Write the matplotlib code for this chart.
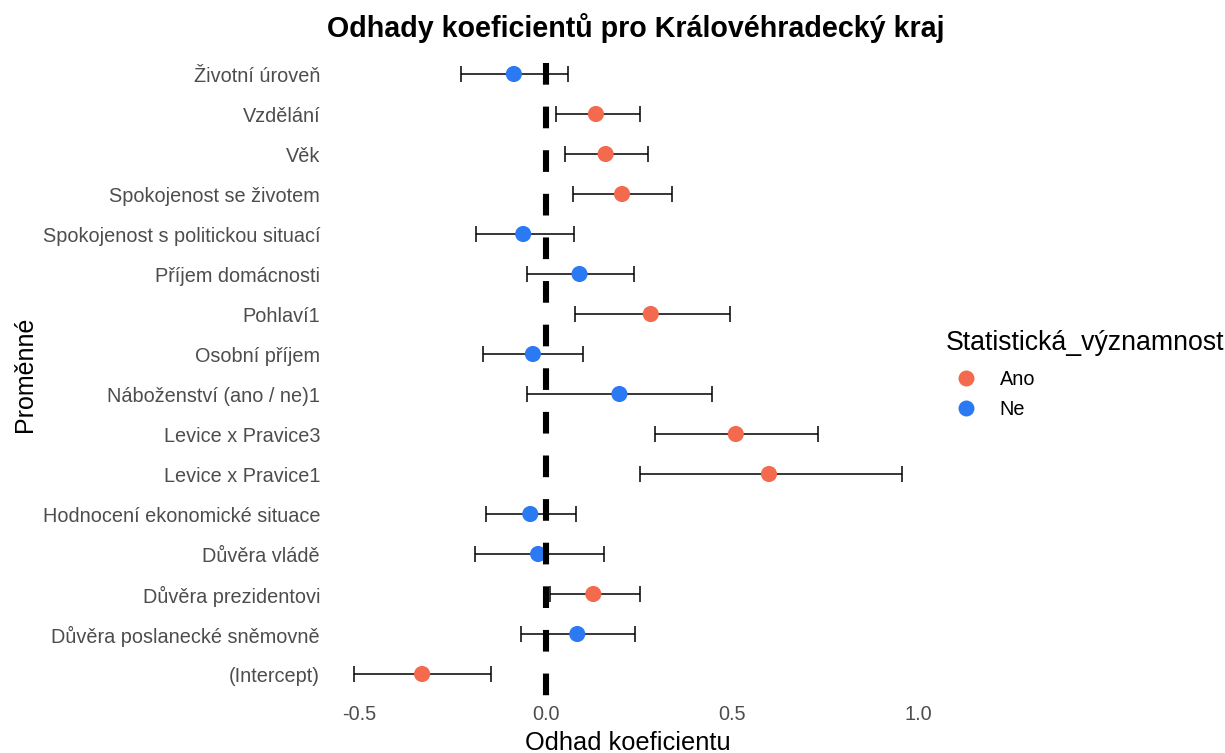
import matplotlib
matplotlib.use("Agg")
import matplotlib.pyplot as plt
from matplotlib.lines import Line2D

# data (top row first)
promenne = ["Životní úroveň", "Vzdělání", "Věk", "Spokojenost se životem",
            "Spokojenost s politickou situací", "Příjem domácnosti", "Pohlaví1",
            "Osobní příjem", "Náboženství (ano / ne)1", "Levice x Pravice3",
            "Levice x Pravice1", "Hodnocení ekonomické situace", "Důvěra vládě",
            "Důvěra prezidentovi", "Důvěra poslanecké sněmovně", "(Intercept)"]
odhad = [-0.085, 0.135, 0.161, 0.205, -0.060, 0.091, 0.282, -0.034,
         0.198, 0.510, 0.599, -0.041, -0.020, 0.128, 0.085, -0.331]
ci_low = [-0.226, 0.027, 0.053, 0.074, -0.186, -0.051, 0.078, -0.168,
          -0.051, 0.293, 0.252, -0.161, -0.190, 0.012, -0.065, -0.513]
ci_high = [0.061, 0.252, 0.274, 0.340, 0.075, 0.237, 0.495, 0.101,
           0.446, 0.730, 0.955, 0.081, 0.157, 0.252, 0.240, -0.145]
vyznamnost = ["Ne", "Ano", "Ano", "Ano", "Ne", "Ne", "Ano", "Ne",
              "Ne", "Ano", "Ano", "Ne", "Ne", "Ano", "Ne", "Ano"]
barvy = {"Ano": "#F36A4F", "Ne": "#2B7AF3"}

plt.rcParams['font.family'] = ['Liberation Sans', 'DejaVu Sans']
plt.rcParams['lines.scale_dashes'] = False

fig = plt.figure(figsize=(12.25, 7.53), dpi=100)
ax = fig.add_axes([327 / 1225, 55 / 753, 602 / 1225, 648 / 753])

n = len(promenne)
ypos = [n - 1 - i for i in range(n)]

for y, est, lo, hi in zip(ypos, odhad, ci_low, ci_high):
    ax.errorbar(est, y, xerr=[[est - lo], [hi - est]], fmt='none',
                ecolor='black', elinewidth=1.1, capsize=5.5, capthick=1.1,
                zorder=2)
ax.scatter(odhad, ypos, s=135, c=[barvy[v] for v in vyznamnost],
           linewidths=0, zorder=3)

# dashed zero line, drawn top -> bottom so the dash phase matches
ax.plot([0, 0], [n - 1 + 0.275, -0.6], color='black', lw=4.4,
        dashes=(15.6, 15.8), zorder=4, solid_capstyle='butt')

ax.set_xlim(-0.586, 1.028)
ax.set_ylim(-0.6, n - 0.4)
ax.set_yticks(ypos)
ax.set_yticklabels(promenne)
ax.set_xticks([-0.5, 0.0, 0.5, 1.0])
ax.set_xticklabels(["-0.5", "0.0", "0.5", "1.0"])
ax.tick_params(length=0, labelsize=14.3, labelcolor='#4D4D4D', pad=5)
for s in ax.spines.values():
    s.set_visible(False)

ax.set_xlabel("Odhad koeficientu", fontsize=18.3, labelpad=5)
ax.set_ylabel("Proměnné", fontsize=18, labelpad=4)

fig.text(636 / 1225, 1 - 28 / 753, "Odhady koeficientů pro Královéhradecký kraj",
         ha='center', va='center', fontsize=20.6, fontweight='bold')

handles = [Line2D([], [], marker='o', ls='none', markersize=11.5,
                  markerfacecolor=barvy[k], markeredgewidth=0, label=k)
           for k in ["Ano", "Ne"]]
leg = fig.legend(handles=handles, title="Statistická_významnost",
                 loc='upper left', bbox_to_anchor=(938 / 1225, 1 - 322 / 753),
                 frameon=False, fontsize=14.3, title_fontsize=19.2,
                 handletextpad=0.7, labelspacing=0.58, borderaxespad=0)
leg._legend_box.align = "left"
leg._legend_box.sep = 10

fig.savefig("out.png", dpi=100, facecolor='white')
